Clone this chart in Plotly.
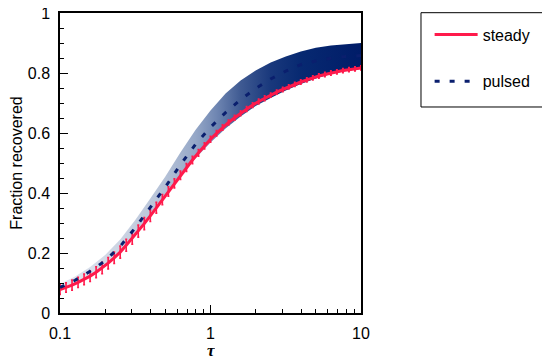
import plotly.graph_objects as go

# ---- data ----
# steady: mean fraction recovered with error bars
steady_tau = [10 ** (-1 + 0.04 * k) for k in range(51)]
steady_val = [0.078, 0.085, 0.093, 0.102, 0.112, 0.123, 0.136, 0.150, 0.166, 0.184,
              0.203, 0.226, 0.249, 0.273, 0.298, 0.324, 0.351, 0.378, 0.405, 0.432,
              0.459, 0.485, 0.510, 0.534, 0.557, 0.579, 0.599, 0.618, 0.635, 0.651,
              0.666, 0.680, 0.693, 0.705, 0.716, 0.726, 0.736, 0.745, 0.754, 0.762,
              0.770, 0.777, 0.784, 0.790, 0.795, 0.800, 0.804, 0.808, 0.811, 0.814,
              0.817]
steady_err = [0.016, 0.016, 0.017, 0.017, 0.018, 0.018, 0.018, 0.019, 0.019, 0.019,
              0.020, 0.020, 0.020, 0.020, 0.020, 0.019, 0.018, 0.017, 0.016, 0.015,
              0.014, 0.013, 0.012, 0.011, 0.010, 0.010, 0.009, 0.009, 0.008, 0.008,
              0.008, 0.008, 0.008, 0.008, 0.008, 0.007, 0.007, 0.007, 0.007, 0.007,
              0.007, 0.007, 0.007, 0.007, 0.007, 0.007, 0.007, 0.007, 0.007, 0.007,
              0.007]

# pulsed: mean (dashed) and spread band
pulsed_tau = [10 ** (-1 + 0.1 * k) for k in range(21)]
pulsed_val = [0.085, 0.109, 0.139, 0.174, 0.222, 0.284, 0.352, 0.420, 0.494, 0.562,
              0.619, 0.668, 0.711, 0.748, 0.780, 0.806, 0.828, 0.840, 0.849, 0.855,
              0.858]
pulsed_hi = [0.097, 0.122, 0.153, 0.193, 0.245, 0.310, 0.382, 0.455, 0.535, 0.610,
             0.675, 0.732, 0.775, 0.808, 0.835, 0.855, 0.872, 0.884, 0.892, 0.897,
             0.900]
pulsed_lo = [0.074, 0.096, 0.122, 0.155, 0.200, 0.258, 0.322, 0.390, 0.455, 0.515,
             0.568, 0.615, 0.655, 0.690, 0.717, 0.742, 0.763, 0.782, 0.797, 0.807,
             0.814]

x_ticks = [0.1, 1, 10]
x_ticktext = ["0.1", "1", "10"]
x_minor = [0.2, 0.3, 0.4, 0.5, 0.6, 0.7, 0.8, 0.9, 2, 3, 4, 5, 6, 7, 8, 9]
y_ticks = [0, 0.2, 0.4, 0.6, 0.8, 1]
y_ticktext = ["0", "0.2", "0.4", "0.6", "0.8", "1"]
x_title = "τ"

RED = "#ff1a4b"
NAVY = "#0a1f6e"
FONT = "Liberation Sans, Arial, sans-serif"

fig = go.Figure()

fig.add_trace(go.Scatter(
    x=pulsed_tau + pulsed_tau[::-1],
    y=pulsed_hi + pulsed_lo[::-1],
    fill="toself",
    mode="lines",
    line=dict(width=0),
    fillgradient=dict(
        type="horizontal",
        colorscale=[[0.0, "#e4e8f1"], [0.2, "#ccd4e3"], [0.35, "#b4c1d7"],
                    [0.45, "#95a7c7"], [0.52, "#6f86b2"], [0.6, "#3f5a92"],
                    [0.7, "#19387c"], [0.8, "#072971"], [1.0, "#001c68"]],
    ),
    showlegend=False,
    hoverinfo="skip",
))

fig.add_trace(go.Scatter(
    x=steady_tau, y=steady_val,
    mode="lines",
    name="steady",
    line=dict(color=RED, width=3),
    error_y=dict(type="data", array=steady_err, color=RED, thickness=1.6, width=1),
    legendgroup="a",
))

fig.add_trace(go.Scatter(
    x=pulsed_tau, y=pulsed_val,
    mode="lines",
    name="pulsed",
    line=dict(color=NAVY, width=3, dash="5px,10px"),
    legendgroup="b",
))

# legend frame
fig.add_shape(type="rect", xref="paper", yref="paper",
              x0=1.1993, x1=1.6113, y0=0.6867, y1=1.001,
              line=dict(color="black", width=1), fillcolor="rgba(0,0,0,0)")

# x-axis title (tau)
fig.add_annotation(x=0, xref="x", y=-0.124, yref="paper",
                   text="<b><i>" + x_title + "</i></b>", showarrow=False,
                   xanchor="center", yanchor="middle", height=16,
                   font=dict(family="Liberation Serif, serif", size=17, color="black"))

fig.update_layout(
    width=550, height=362,
    margin=dict(l=52, r=197, t=5, b=57, autoexpand=False),
    paper_bgcolor="white",
    plot_bgcolor="white",
    font=dict(family=FONT, size=16, color="black"),
    legend=dict(
        x=1.228, y=0.985, xanchor="left", yanchor="top",
        borderwidth=0, bgcolor="rgba(0,0,0,0)",
        font=dict(family=FONT, size=16, color="black"),
        tracegroupgap=23,
        itemwidth=43,
        traceorder="grouped",
    ),
)

fig.update_xaxes(
    type="log", range=[-1, 1],
    tickvals=x_ticks, ticktext=x_ticktext,
    ticks="inside", ticklen=8, tickwidth=1, tickcolor="black",
    minor=dict(tickvals=x_minor, ticks="inside", ticklen=4, tickwidth=1,
               tickcolor="black", showgrid=False),
    showline=True, linecolor="black", linewidth=1.5, mirror=True,
    showgrid=False, zeroline=False,
    ticklabelstandoff=5, ticklabeloverflow="allow",
    tickfont=dict(family=FONT, size=16),
)

fig.update_yaxes(
    range=[0, 1],
    tickvals=y_ticks, ticktext=y_ticktext,
    ticks="inside", ticklen=8, tickwidth=1, tickcolor="black",
    minor=dict(dtick=0.05, ticks="inside", ticklen=4, tickwidth=1,
               tickcolor="black", showgrid=False),
    showline=True, linecolor="black", linewidth=1.5, mirror=True,
    showgrid=False, zeroline=False,
    ticklabelstandoff=5, ticklabeloverflow="allow",
    tickfont=dict(family=FONT, size=16),
    title=dict(text="Fraction recovered", font=dict(family=FONT, size=16),
               standoff=6),
)

fig.write_html("out.html")
